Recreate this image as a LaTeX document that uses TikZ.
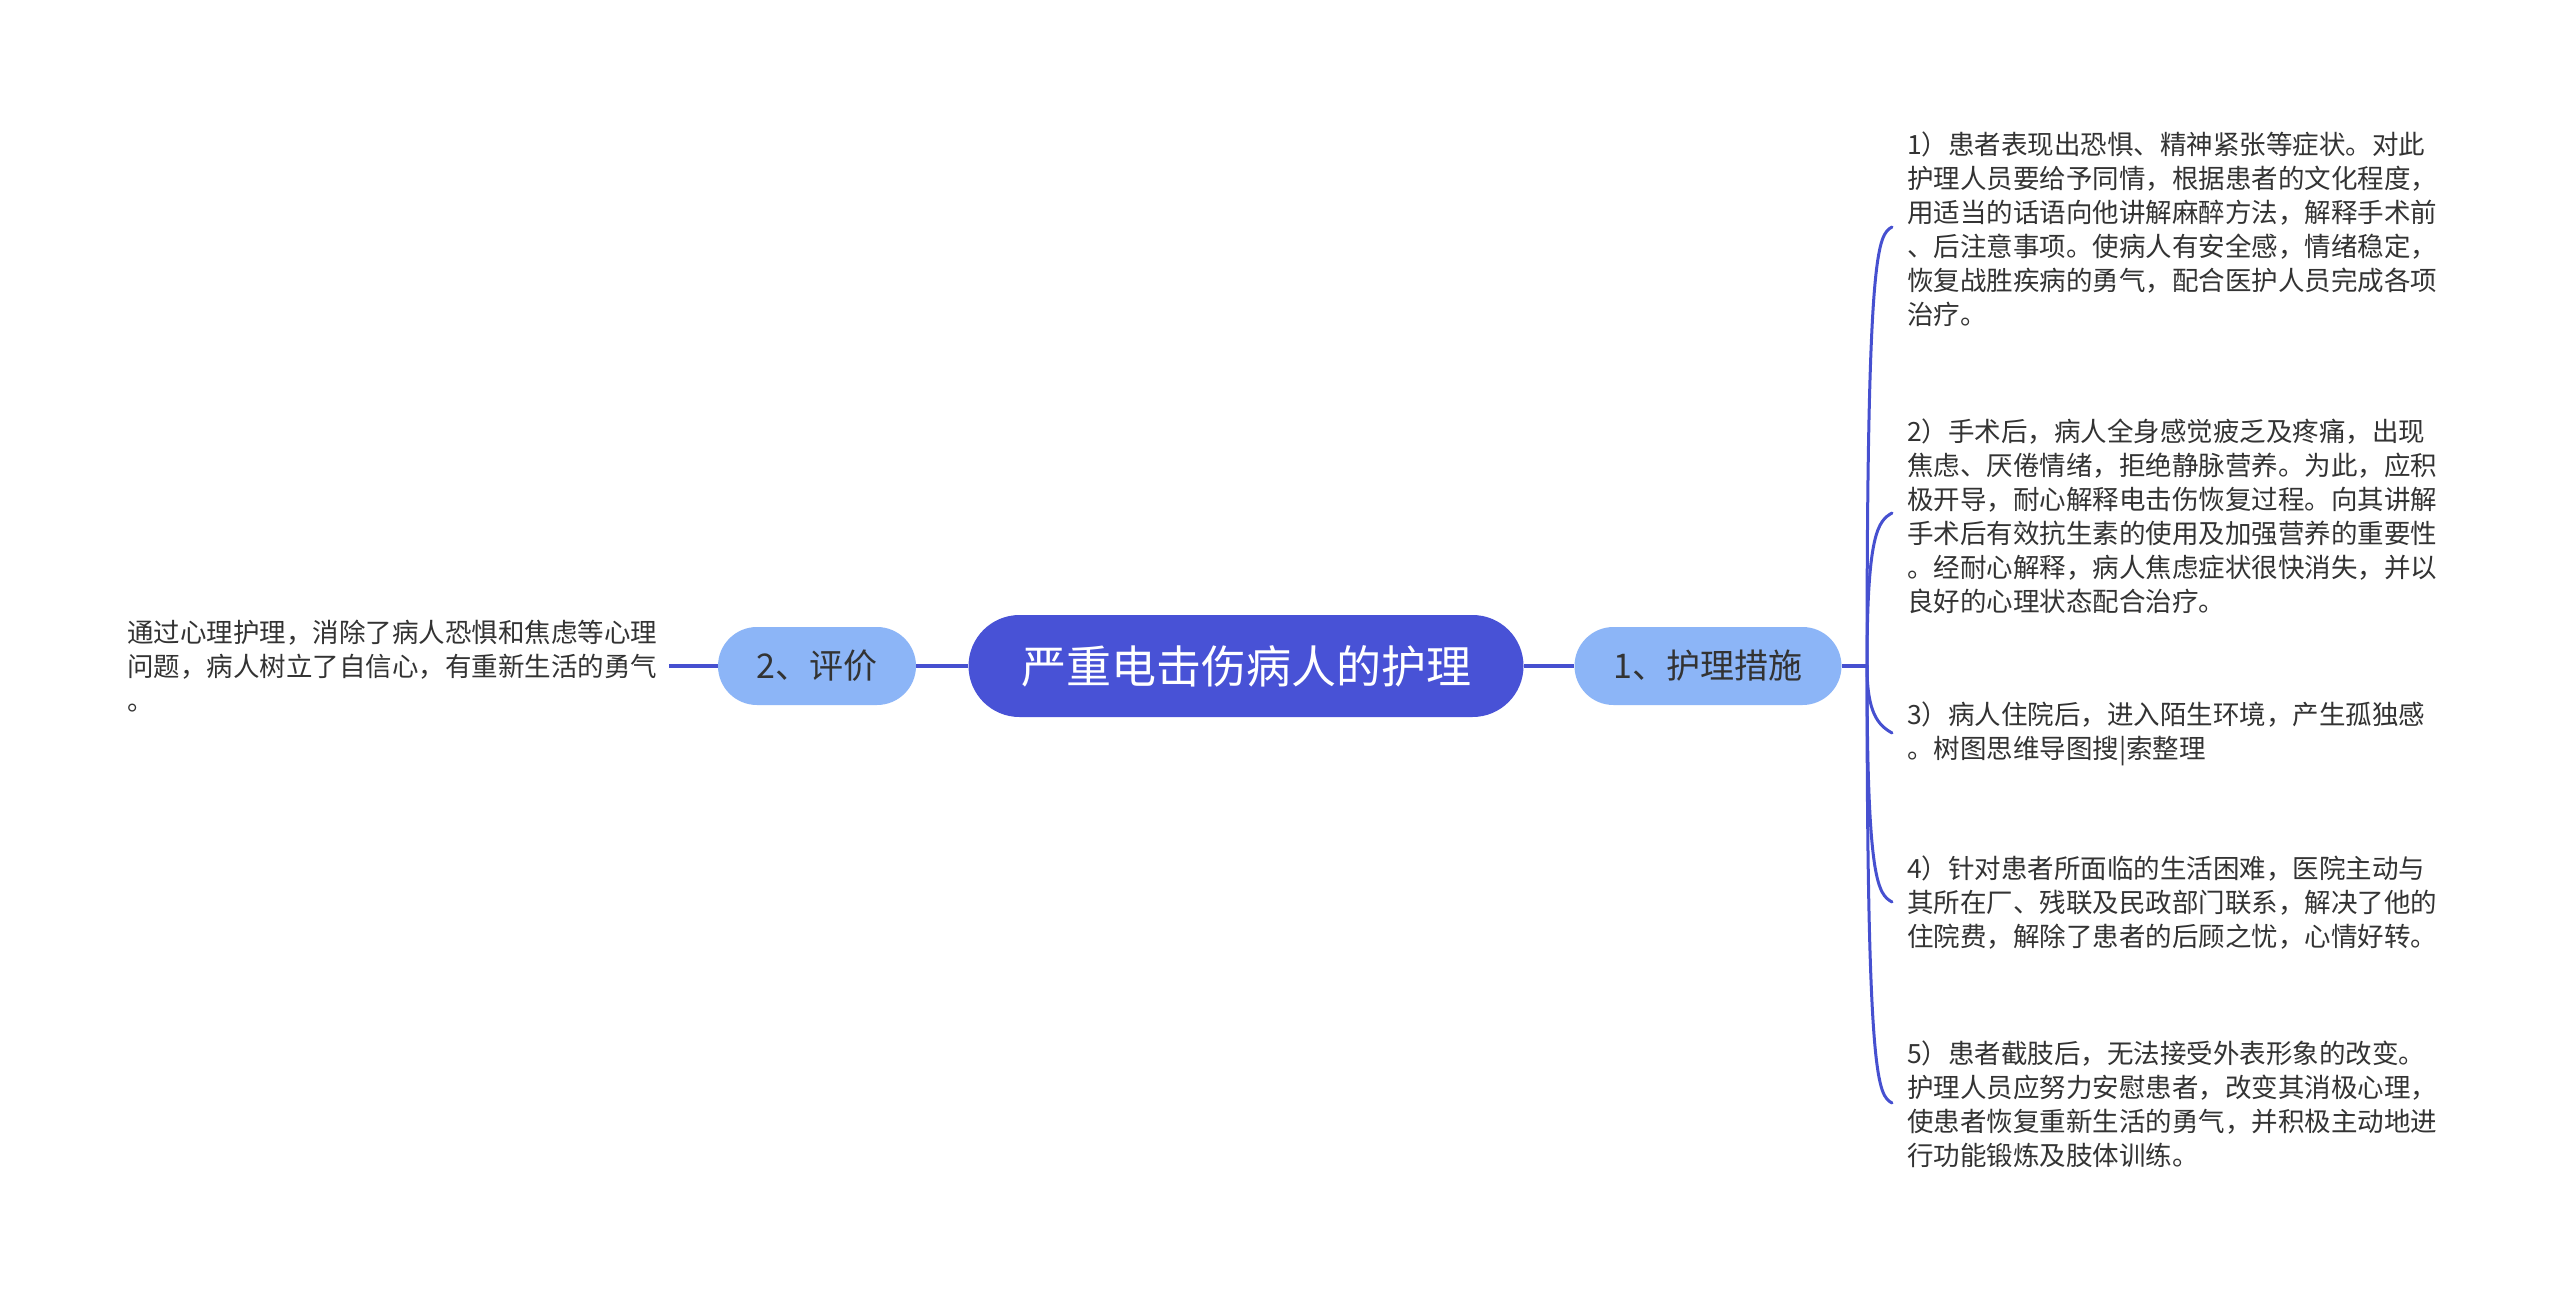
\documentclass[tikz,border=0pt]{standalone}
\usepackage{fontspec}
\setmainfont{Noto Sans CJK SC}
\definecolor{rootblue}{RGB}{72,82,214}
\definecolor{subblue}{RGB}{140,181,247}
\definecolor{linkblue}{RGB}{70,80,208}
\definecolor{txt}{RGB}{51,51,51}
\begin{document}
\begin{tikzpicture}[x=1pt,y=-1pt,
  rootbox/.style={fill=rootblue, text=white, rounded corners=51pt, minimum width=555pt, minimum height=102pt, inner sep=0pt, font=\fontsize{45}{54}\selectfont},
  subbox/.style={fill=subblue, text=txt, rounded corners=39pt, minimum height=78pt, inner sep=0pt, font=\fontsize{34}{40}\selectfont},
  leaftext/.style={anchor=west, align=left, inner sep=0pt, text=txt, font=\fontsize{26.5}{34}\selectfont},
  conn/.style={draw=linkblue, line width=3.5pt},
  curve/.style={draw=linkblue, line width=3pt, line cap=round}]
\useasboundingbox (0,0) rectangle (2560,1298);
\fill[white] (0,0) rectangle (2560,1298);

\node[rootbox] (root) at (1246,666) {严重电击伤病人的护理};
\node[subbox, minimum width=267pt] (n1) at (1708,666) {1、护理措施};
\node[subbox, minimum width=198pt] (n2) at (817,666) {2、评价};

\node[leaftext] (t0) at (127,666) {通过心理护理，消除了病人恐惧和焦虑等心理\\问题，病人树立了自信心，有重新生活的勇气\\。};

\node[leaftext] (b1) at (1907,229) {1）患者表现出恐惧、精神紧张等症状。对此\\护理人员要给予同情，根据患者的文化程度，\\用适当的话语向他讲解麻醉方法，解释手术前\\、后注意事项。使病人有安全感，情绪稳定，\\恢复战胜疾病的勇气，配合医护人员完成各项\\治疗。};
\node[leaftext] (b2) at (1907,516) {2）手术后，病人全身感觉疲乏及疼痛，出现\\焦虑、厌倦情绪，拒绝静脉营养。为此，应积\\极开导，耐心解释电击伤恢复过程。向其讲解\\手术后有效抗生素的使用及加强营养的重要性\\。经耐心解释，病人焦虑症状很快消失，并以\\良好的心理状态配合治疗。};
\node[leaftext] (b3) at (1907,734) {3）病人住院后，进入陌生环境，产生孤独感\\。树图思维导图搜|索整理};
\node[leaftext] (b4) at (1907,903) {4）针对患者所面临的生活困难，医院主动与\\其所在厂、残联及民政部门联系，解决了他的\\住院费，解除了患者的后顾之忧，心情好转。};
\node[leaftext] (b5) at (1907,1104) {5）患者截肢后，无法接受外表形象的改变。\\护理人员应努力安慰患者，改变其消极心理，\\使患者恢复重新生活的勇气，并积极主动地进\\行功能锻炼及肢体训练。};

\coordinate (hub) at (1867,666);
\coordinate (l0) at (669,666);
\coordinate (e1) at (1892,227);
\coordinate (e2) at (1892,513);
\coordinate (e3) at (1892,733);
\coordinate (e4) at (1892,902);
\coordinate (e5) at (1892,1103);

\draw[conn] (root.east) -- (n1.west);
\draw[conn] (root.west) -- (n2.east);
\draw[conn] (n2.west) -- (l0);
\draw[conn] (n1.east) -- (hub);

\draw[curve] (hub) .. controls (1867,247) and (1878,235) .. (e1);
\draw[curve] (hub) .. controls (1867,533) and (1878,521) .. (e2);
\draw[curve] (hub) .. controls (1867,713) and (1878,725) .. (e3);
\draw[curve] (hub) .. controls (1867,882) and (1878,894) .. (e4);
\draw[curve] (hub) .. controls (1867,1083) and (1878,1095) .. (e5);
\end{tikzpicture}
\end{document}
